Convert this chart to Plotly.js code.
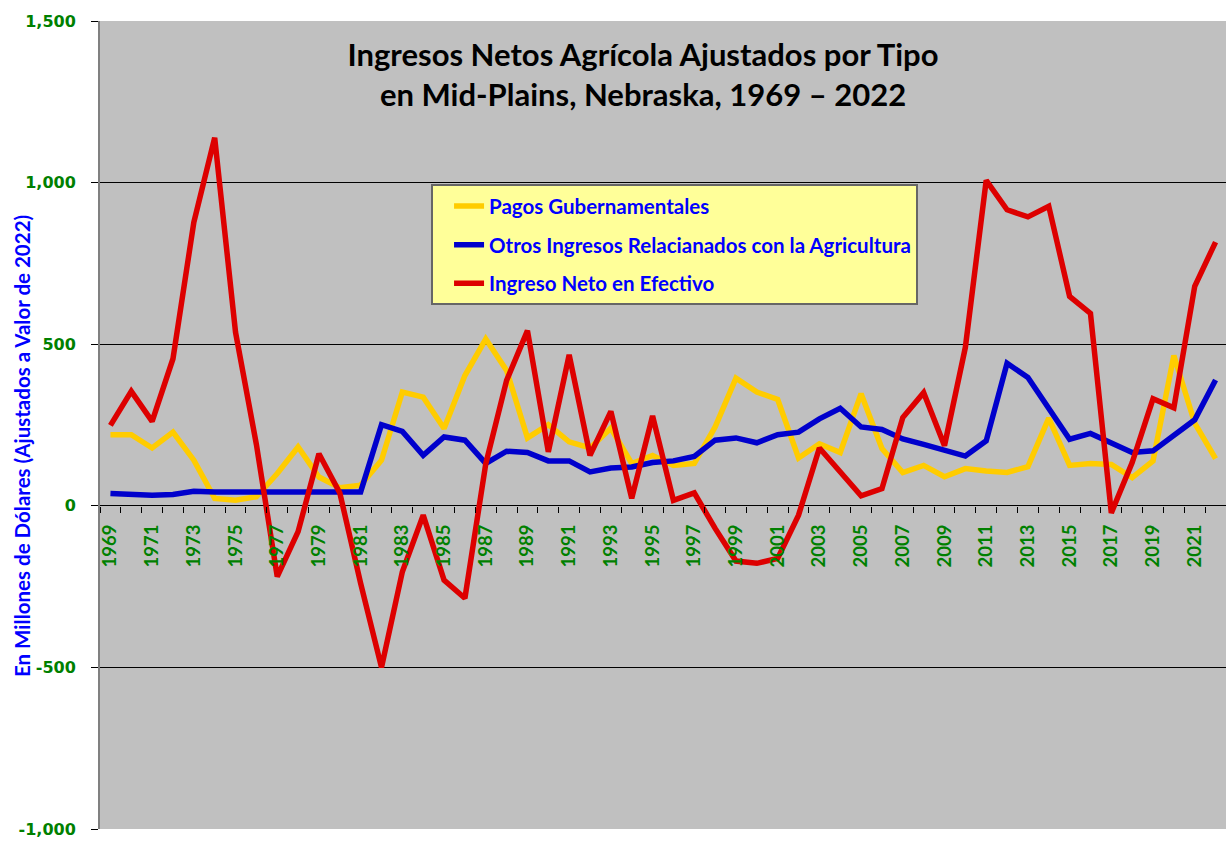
<!DOCTYPE html>
<html>
<head>
<meta charset="utf-8">
<script src="https://cdn.plot.ly/plotly-3.0.1.min.js"></script>
<style>
  html, body { margin: 0; padding: 0; background: #ffffff; }
  #chart { width: 1226px; height: 842px; }
</style>
</head>
<body>
<div id="chart"></div>
<script>
// ---- Data (millions of 2022 dollars) ----
const years = [
  1969, 1970, 1971, 1972, 1973, 1974, 1975, 1976, 1977, 1978,
  1979, 1980, 1981, 1982, 1983, 1984, 1985, 1986, 1987, 1988,
  1989, 1990, 1991, 1992, 1993, 1994, 1995, 1996, 1997, 1998,
  1999, 2000, 2001, 2002, 2003, 2004, 2005, 2006, 2007, 2008,
  2009, 2010, 2011, 2012, 2013, 2014, 2015, 2016, 2017, 2018,
  2019, 2020, 2021, 2022
];

const pagosGubernamentales = [
  220, 220, 179, 228, 141, 23, 17, 28, 100, 182,
  89, 56, 64, 141, 352, 336, 239, 403, 516, 419,
  210, 251, 198, 179, 240, 131, 156, 125, 131, 244,
  395, 352, 329, 148, 192, 165, 347, 177, 103, 125,
  90, 115, 108, 103, 121, 271, 125, 131, 128, 87,
  139, 465, 256, 146
];

const otrosIngresos = [
  38, 35, 33, 35, 45, 43, 43, 43, 43, 43,
  45, 44, 43, 251, 230, 156, 213, 203, 131, 169,
  165, 139, 139, 105, 117, 120, 134, 139, 153, 203,
  210, 195, 220, 228, 269, 302, 244, 236, 207, 190,
  173, 154, 201, 441, 397, 299, 206, 224, 193, 165,
  170, 218, 266, 389
];

const ingresoNetoEfectivo = [
  249, 354, 261, 455, 877, 1139, 537, 190, -219, -80,
  161, 40, -240, -500, -204, -29, -230, -286, 130, 388,
  542, 167, 467, 156, 292, 23, 278, 17, 40, -70,
  -171, -178, -163, -29, 179, 105, 31, 53, 273, 350,
  186, 490, 1007, 916, 894, 927, 648, 595, -22, 134,
  331, 303, 679, 816
];

const seriesNames = [
  'Pagos Gubernamentales',
  'Otros Ingresos Relacianados con la Agricultura',
  'Ingreso Neto en Efectivo'
];

const xTickYears = years.filter(y => y % 2 === 1);
const xTickLabels = xTickYears.map(String);
const yTickVals = [-1000, -500, 0, 500, 1000, 1500];
const yTickLabels = ['-1,000', '-500', '0', '500', '1,000', '1,500'];

const titleLine1 = 'Ingresos Netos Agrícola Ajustados por Tipo';
const titleLine2 = 'en Mid-Plains, Nebraska, 1969 – 2022';
const yTitle = 'En Millones de Dólares (Ajustados a Valor de 2022)';

// ---- Styles ----
const colors = ['#FFCC00', '#0000CC', '#DD0000'];
const LATO = 'Lato, "Open Sans", sans-serif';
const GREEN = '#008000';
const BLUE = '#0000FF';

const allSeries = [pagosGubernamentales, otrosIngresos, ingresoNetoEfectivo];
const traces = allSeries.map((vals, i) => ({
  type: 'scatter',
  mode: 'lines',
  x: years,
  y: vals,
  name: seriesNames[i],
  legendgroup: 'g' + i,
  line: { color: colors[i], width: 5.5, shape: 'linear' },
  hoverinfo: 'x+y+name'
}));

const layout = {
  width: 1226,
  height: 842,
  margin: { l: 100, r: 0, t: 21, b: 13, pad: 0 },
  paper_bgcolor: '#FFFFFF',
  plot_bgcolor: '#C0C0C0',
  showlegend: true,
  title: {
    text: titleLine1 + '<br>' + titleLine2,
    font: { family: LATO, size: 31, color: '#000000', weight: 700 },
    x: 0.5245,
    xref: 'container',
    xanchor: 'center',
    y: 1 - 66 / 842,
    yref: 'container',
    yanchor: 'middle'
  },
  legend: {
    x: 0.294,
    y: 0.798,
    xanchor: 'left',
    yanchor: 'top',
    bgcolor: '#FFFF99',
    bordercolor: '#666666',
    borderwidth: 2,
    font: { family: LATO, size: 20.5, color: BLUE, weight: 700 },
    traceorder: 'grouped',
    tracegroupgap: 9,
    indentation: 16
  },
  xaxis: {
    type: 'linear',
    range: [1968.5, 2022.5],
    anchor: 'free',
    position: 0.4,
    tickmode: 'array',
    tickvals: xTickYears,
    ticktext: xTickLabels,
    tickangle: -90,
    ticks: '',
    ticklabelstandoff: 14,
    tickfont: { family: LATO, size: 18.5, color: GREEN, weight: 700 },
    showgrid: false,
    zeroline: false,
    showline: false,
    minor: {
      tickmode: 'linear',
      tick0: 1968.5,
      dtick: 1,
      ticks: 'outside',
      ticklen: 6,
      tickwidth: 1,
      tickcolor: '#000000',
      showgrid: false
    },
    fixedrange: true
  },
  yaxis: {
    range: [-1000, 1500],
    tickmode: 'array',
    tickvals: yTickVals,
    ticktext: yTickLabels,
    ticks: 'outside',
    ticklen: 7,
    tickwidth: 1,
    tickcolor: '#000000',
    ticklabelstandoff: 12,
    tickfont: { family: '"DejaVu Sans", Verdana, sans-serif', size: 16, color: GREEN, weight: 700 },
    showgrid: true,
    gridcolor: '#000000',
    gridwidth: 1,
    zeroline: true,
    zerolinecolor: '#000000',
    zerolinewidth: 1,
    showline: true,
    linecolor: '#808080',
    linewidth: 2,
    fixedrange: true
  },
  annotations: [{
    text: yTitle,
    textangle: -90,
    xref: 'paper',
    yref: 'paper',
    x: (22 - 100) / 1126,
    y: (829 - 446) / 808,
    xanchor: 'center',
    yanchor: 'middle',
    showarrow: false,
    font: { family: LATO, size: 20.5, color: BLUE, weight: 700 }
  }]
};

Plotly.newPlot('chart', traces, layout, { displayModeBar: false, responsive: false });
</script>
</body>
</html>
